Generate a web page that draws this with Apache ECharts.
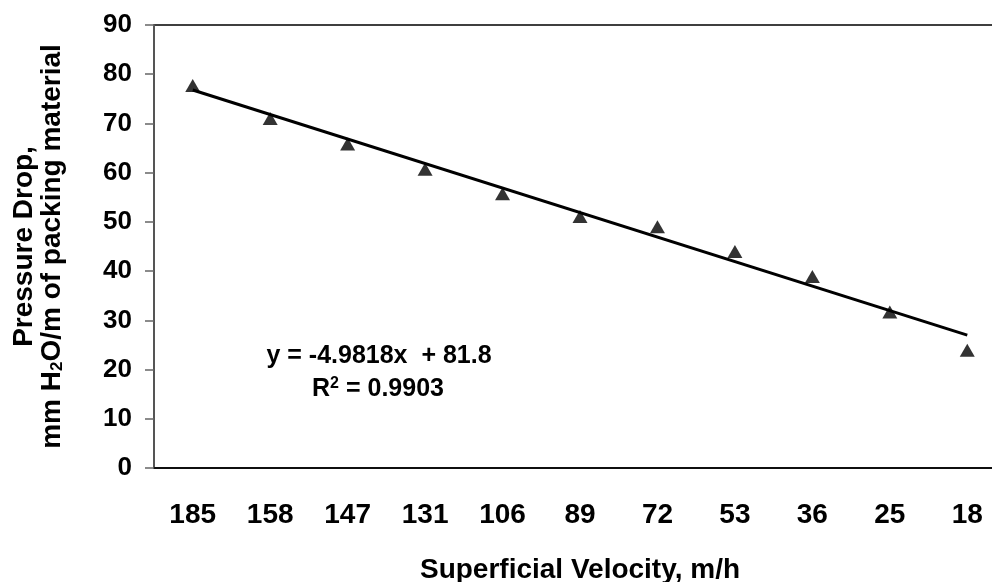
<!DOCTYPE html>
<html>
<head>
<meta charset="utf-8">
<script src="https://cdn.jsdelivr.net/npm/echarts@6/dist/echarts.min.js"></script>
<style>
  html, body { margin: 0; padding: 0; background: #fff; }
  #main { width: 992px; height: 582px; }
</style>
</head>
<body>
<div id="main"></div>
<script>
// velocity categories (m/h) and measured pressure drop
var velocity = ['185', '158', '147', '131', '106', '89', '72', '53', '36', '25', '18'];
var pressureDrop = [77.7, 71.0, 65.8, 60.7, 55.7, 51.1, 49.0, 44.0, 38.9, 31.7, 23.9];
// linear trend line, value at first and last category
var trendEnds = [76.8, 27.0];
var yTicks = [0, 90, 10];

var font = 'Liberation Sans';
var myChart = echarts.init(document.getElementById('main'));

var option = {
    animation: false,
    backgroundColor: '#fff',
    grid: {
        left: 154,
        top: 25,
        bottom: 114,
        width: 852,
        outerBoundsMode: 'none',
        containLabel: false,
        show: true,
        borderColor: '#000',
        borderWidth: 1.5
    },
    xAxis: {
        type: 'category',
        data: velocity,
        boundaryGap: true,
        name: 'Superficial Velocity, m/h',
        nameLocation: 'middle',
        nameGap: 88,
        nameTextStyle: { fontFamily: font, fontWeight: 'bold', fontSize: 28, color: '#000' },
        axisLine: { lineStyle: { color: '#000', width: 1.5 } },
        axisTick: { length: 9, lineStyle: { color: '#333', width: 1.5 } },
        axisLabel: { margin: 33, fontFamily: font, fontWeight: 'bold', fontSize: 28, color: '#000' },
        splitLine: { show: false }
    },
    yAxis: {
        type: 'value',
        min: yTicks[0],
        max: yTicks[1],
        interval: yTicks[2],
        name: 'Pressure Drop,\nmm H{s|2}O/m of packing material',
        nameLocation: 'middle',
        nameGap: 88,
        nameTextStyle: {
            fontFamily: font, fontWeight: 'bold', fontSize: 28, color: '#000', lineHeight: 28,
            rich: {
                s: { fontFamily: font, fontWeight: 'bold', fontSize: 17, color: '#000', verticalAlign: 'bottom', lineHeight: 28 }
            }
        },
        axisLine: { show: true, lineStyle: { color: '#555', width: 2 } },
        axisTick: { show: true, length: 9, lineStyle: { color: '#666', width: 1.5 } },
        axisLabel: { margin: 22, fontFamily: font, fontWeight: 'bold', fontSize: 26, color: '#000' },
        splitLine: { show: false }
    },
    series: [
        {
            name: 'Pressure Drop',
            type: 'scatter',
            data: pressureDrop,
            symbol: 'triangle',
            symbolSize: [15, 13],
            itemStyle: { color: '#000' },
            z: 3,
            markLine: {
                silent: true,
                symbol: ['none', 'none'],
                label: { show: false },
                lineStyle: { color: '#000', width: 3, type: 'solid' },
                data: [[
                    { coord: [0, trendEnds[0]] },
                    { coord: [velocity.length - 1, trendEnds[1]] }
                ]]
            }
        }
    ],
    graphic: [
        {
            type: 'text',
            x: 379,
            y: 356,
            style: {
                text: 'y = -4.9818x  + 81.8',
                font: 'bold 25px "Liberation Sans"',
                fill: '#000',
                align: 'center',
                verticalAlign: 'middle'
            }
        },
        {
            type: 'text',
            x: 378,
            y: 389,
            style: {
                text: 'R{sup|2} = 0.9903',
                font: 'bold 25px "Liberation Sans"',
                fill: '#000',
                align: 'center',
                verticalAlign: 'middle',
                rich: {
                    sup: { font: 'bold 16px "Liberation Sans"', fill: '#000', verticalAlign: 'top', padding: [0, 0, 10, 0] }
                }
            }
        }
    ]
};

myChart.setOption(option);
</script>
</body>
</html>
